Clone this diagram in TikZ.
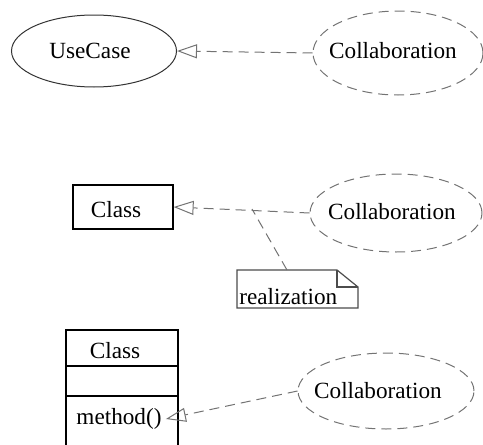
\documentclass[tikz,border=0pt]{standalone}
\usepackage{fontspec}
\setmainfont{Liberation Serif}
\usetikzlibrary{shapes.geometric,arrows.meta}
\begin{document}
\begin{tikzpicture}[x=0.5pt,y=-0.5pt,
  every node/.style={font=\rmfamily\fontsize{11.6}{14}\selectfont, inner sep=0pt},
  usecase/.style={ellipse, draw=black!80, line width=0.5pt},
  collab/.style={ellipse, draw=black!55, dash pattern=on 5pt off 3pt, line width=0.5pt},
  real/.style={draw=black!55, dash pattern=on 5pt off 3pt, line width=0.5pt,
    -{Triangle[open,length=10pt,width=7pt]}},
  notelink/.style={draw=black!55, dash pattern=on 5pt off 3pt, line width=0.5pt},
  box/.style={draw=black, line width=0.6pt}]
\clip (0,0) rectangle (483,445);
% Row 1
\node[usecase, minimum width=82.5pt, minimum height=36pt] (uc) at (94,51) {};
\node (uct) at (90,51) {UseCase};
\node[collab, minimum width=85pt, minimum height=42pt] (c1) at (398,53) {};
\node (c1t) at (393,51) {Collaboration};
\draw[real] (c1.west) -- (uc.east);
% Row 2
\node[box, rectangle, minimum width=50pt, minimum height=22pt] (cls) at (123,207) {};
\node (clst) at (116,210) {Class};
\node[collab, minimum width=86pt, minimum height=39pt] (c2) at (396,213) {};
\node (c2t) at (392,212) {Collaboration};
\draw[real] (c2.west) -- (cls.east);
\coordinate (j) at (252,209);
\draw[box, draw=black!70] (237,270) -- (337,270) -- (358,287) -- (358,308) -- (237,308) -- cycle;
\draw[box, draw=black!70] (337,270) -- (337,287) -- (358,287);
\node[anchor=west] (nt) at (239,297) {realization};
\coordinate (ntop) at (287,270);
\draw[notelink] (ntop) -- (j);
% Row 3
\node[box, rectangle, minimum width=56pt, minimum height=18pt] (cl3) at (122,348) {};
\node (cl3t) at (115,351) {Class};
\node[box, rectangle, minimum width=56pt, minimum height=15pt] (attr) at (122,381) {};
\node[box, rectangle, minimum width=56pt, minimum height=30pt] (ops) at (122,426) {};
\node (m) at (119,419) {method()};
\node[collab, minimum width=88pt, minimum height=38pt] (c3) at (386,391) {};
\node (c3t) at (378,391) {Collaboration};
\draw[real] (c3.west) -- ([xshift=2pt]m.east);
\end{tikzpicture}
\end{document}
